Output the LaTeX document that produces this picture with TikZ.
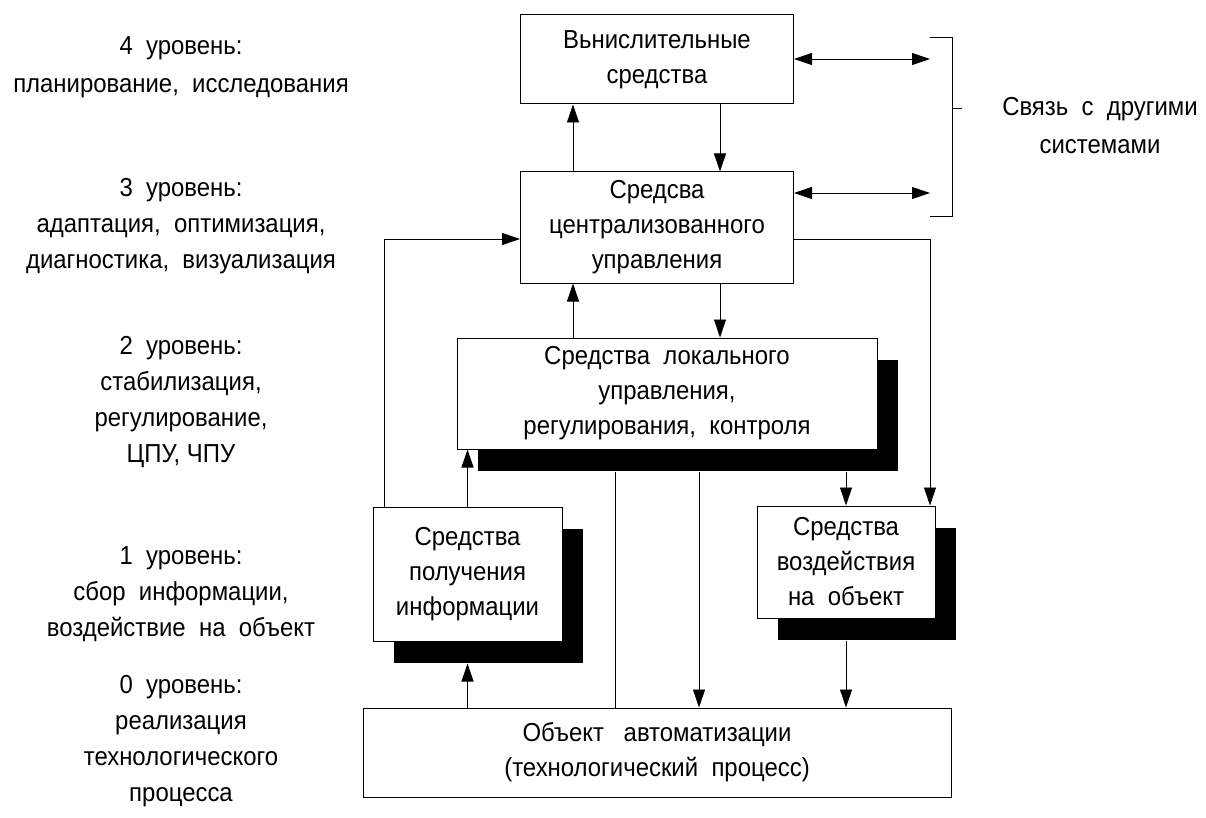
\documentclass[tikz,border=0pt]{standalone}
\usepackage{fontspec}
\setmainfont[FakeStretch=0.92]{Liberation Sans}
\usetikzlibrary{arrows.meta,shadows,calc}
\tikzset{
  txt/.style={font=\fontsize{26}{35}\selectfont},
  box/.style={txt, draw, line width=1pt, fill=white, align=center, inner sep=0pt},
  shad/.style={drop shadow={shadow xshift=21pt, shadow yshift=-22pt, fill=black, opacity=1}},
  conn/.style={line width=0.9pt},
  arr/.style={conn, -{Triangle[length=18pt,width=12pt]}},
  dbl/.style={conn, {Triangle[length=18pt,width=12pt]}-{Triangle[length=18pt,width=12pt]}},
  lbl/.style={font=\fontsize{26}{36}\selectfont, align=center, inner sep=0pt},
  lblw/.style={font=\fontsize{26}{38}\selectfont, align=center, inner sep=0pt}
}
\begin{document}
\begin{tikzpicture}[x=1pt,y=-1pt]
\useasboundingbox (0,0) rectangle (1206,818);
% boxes
\node[box, minimum width=273pt, minimum height=89pt] (b1) at (657,59.5) {Вьнислительные\\средства};
\node[box, minimum width=273pt, minimum height=111pt] (b2) at (657,227.5) {Средсва\\централизованного\\управления};
\node[box, shad, minimum width=420pt, minimum height=111pt] (b3) at (667,393.5) {Средства\ \ локального\\управления,\\регулирования,\ \ контроля};
\node[box, shad, minimum width=189pt, minimum height=134pt] (b4) at (467.5,574) {Средства\\получения\\информации};
\node[box, shad, minimum width=178pt, minimum height=112pt] (b5) at (846,562) {Средства\\воздействия\\на\ \ объект};
\node[box, minimum width=588pt, minimum height=89pt] (obj) at (657,752.5) {Объект\enspace\ автоматизации\\(технологический\ \ процесс)};
% shadow bottoms as coordinates
\coordinate (s3) at ($(b3.south)+(0,22)$);
\coordinate (s4) at ($(b4.south)+(0,22)$);
\coordinate (s5) at ($(b5.south)+(0,22)$);
% x positions
\coordinate (xa) at (573,0);
\coordinate (xb) at (720,0);
\coordinate (xl) at (384,0);
\coordinate (xr) at (930,0);
\coordinate (xc) at (615,0);
\coordinate (xd) at (699,0);
% bracket ends
\coordinate (e1) at (930,59);
\coordinate (e2) at (930,193);
\coordinate (bt) at (930,37);
\coordinate (bb) at (930,216);
\coordinate (bm) at (952,108);
\coordinate (bk) at (962,108);
% connectors
\draw[arr] (xa |- b2.north) -- (xa |- b1.south);
\draw[arr] (xb |- b1.south) -- (xb |- b2.north);
\draw[dbl] (b1.east |- e1) -- (e1);
\draw[dbl] (b2.east |- e2) -- (e2);
\draw[conn] (bt) -- (952,37) -- (952,216) -- (bb);
\draw[conn] (bm) -- (bk);
\draw[arr] (xa |- b3.north) -- (xa |- b2.south);
\draw[arr] (xb |- b2.south) -- (xb |- b3.north);
\draw[arr] (xl |- b4.north) -- (384,239) -- (b2.west |- 0,239);
\draw[arr] (b2.east |- 0,239) -- (930,239) -- (xr |- b5.north);
\draw[arr] (b4.north) -- (b3.south -| b4.north);
\draw[arr] (obj.north -| b4.south) -- (s4);
\draw[conn] (xc |- s3) -- (xc |- obj.north);
\draw[arr] (xd |- s3) -- (xd |- obj.north);
\draw[arr] (s3 -| b5.north) -- (b5.north);
\draw[arr] (s5) -- (obj.north -| s5);
% level labels
\node[lblw] (l4) at (181,67) {4\ \ уровень:\\планирование,\ \ исследования};
\node[lbl] (l3) at (181,226) {3\ \ уровень:\\адаптация,\ \ оптимизация,\\диагностика,\ \ визуализация};
\node[lbl] (l2) at (181,402) {2\ \ уровень:\\стабилизация,\\регулирование,\\ЦПУ, ЧПУ};
\node[lbl] (l1) at (181,594) {1\ \ уровень:\\сбор\ \ информации,\\воздействие\ \ на\ \ объект};
\node[lbl] (l0) at (181,741) {0\ \ уровень:\\реализация\\технологического\\процесса};
\node[lblw] (sv) at (1100,126) {Связь\ \ с\ \ другими\\системами};
\end{tikzpicture}
\end{document}
